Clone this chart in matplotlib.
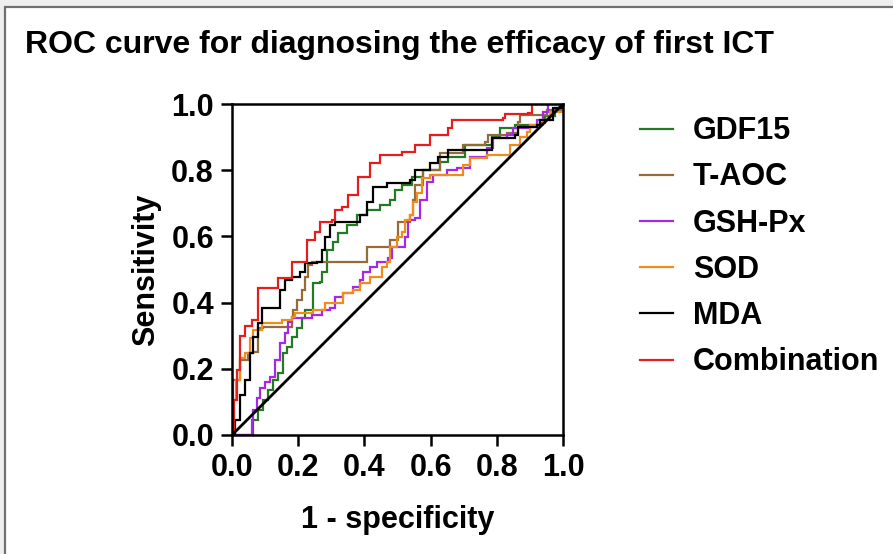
import matplotlib
matplotlib.use("Agg")
import matplotlib.pyplot as plt
from matplotlib.patches import Rectangle

# ROC points (1 - specificity, sensitivity)
gdf15_fpr = [0, 0.039, 0.063, 0.079, 0.094, 0.109, 0.124, 0.139, 0.154, 0.166, 0.181, 0.196, 0.211,
             0.221, 0.245, 0.266, 0.272, 0.287, 0.287, 0.305, 0.32, 0.347, 0.378, 0.408, 0.447,
             0.477, 0.492, 0.514, 0.544, 0.577, 0.628, 0.653, 0.704, 0.785, 0.81, 0.855, 0.93,
             0.946, 0.976, 1.0]
gdf15_tpr = [0, 0, 0.045, 0.076, 0.106, 0.136, 0.166, 0.187, 0.248, 0.266, 0.296, 0.323, 0.353,
             0.378, 0.459, 0.462, 0.492, 0.498, 0.559, 0.583, 0.61, 0.634, 0.665, 0.68, 0.695,
             0.71, 0.74, 0.755, 0.779, 0.80, 0.825, 0.84, 0.876, 0.90, 0.927, 0.937, 0.943,
             0.964, 0.988, 1.0]

taoc_fpr = [0, 0.003, 0.024, 0.048, 0.063, 0.079, 0.094, 0.166, 0.181, 0.184, 0.196, 0.211, 0.221,
            0.23, 0.242, 0.387, 0.408, 0.408, 0.456, 0.477, 0.502, 0.502, 0.538, 0.547, 0.553,
            0.577, 0.628, 0.698, 0.764, 0.773, 0.831, 0.864, 0.87, 0.909, 0.952, 1.0]
taoc_tpr = [0, 0.166, 0.227, 0.248, 0.251, 0.323, 0.326, 0.326, 0.356, 0.378, 0.408, 0.438, 0.477,
            0.514, 0.523, 0.523, 0.544, 0.568, 0.568, 0.589, 0.61, 0.644, 0.665, 0.71, 0.755,
            0.80, 0.852, 0.876, 0.885, 0.906, 0.912, 0.946, 0.967, 0.967, 0.982, 1.0]

gshpx_fpr = [0, 0.06, 0.06, 0.063, 0.076, 0.085, 0.1, 0.115, 0.13, 0.145, 0.16, 0.169, 0.181,
             0.242, 0.272, 0.296, 0.311, 0.335, 0.366, 0.387, 0.396, 0.417, 0.438, 0.471, 0.483,
             0.514, 0.523, 0.532, 0.553, 0.568, 0.589, 0.607, 0.65, 0.68, 0.719, 0.770, 0.789,
             0.831, 0.849, 0.9, 0.921, 0.94, 0.955, 1.0]
gshpx_tpr = [0, 0, 0.045, 0.076, 0.112, 0.142, 0.16, 0.175, 0.227, 0.278, 0.308, 0.341, 0.353,
             0.363, 0.378, 0.384, 0.417, 0.429, 0.447, 0.468, 0.492, 0.508, 0.523, 0.535, 0.568,
             0.568, 0.598, 0.65, 0.656, 0.71, 0.764, 0.785, 0.80, 0.807, 0.84, 0.867, 0.897,
             0.906, 0.927, 0.93, 0.952, 0.976, 1.0, 1.0]

sod_fpr = [0, 0.003, 0.012, 0.024, 0.039, 0.054, 0.063, 0.091, 0.151, 0.181, 0.19, 0.221, 0.245,
           0.281, 0.335, 0.366, 0.387, 0.417, 0.453, 0.468, 0.477, 0.498, 0.514, 0.523, 0.538,
           0.547, 0.559, 0.574, 0.598, 0.683, 0.698, 0.719, 0.770, 0.819, 0.84, 0.87, 0.891,
           0.9, 0.94, 0.961, 1.0]
sod_tpr = [0, 0.106, 0.166, 0.233, 0.248, 0.293, 0.317, 0.338, 0.347, 0.356, 0.369, 0.369, 0.378,
           0.399, 0.429, 0.438, 0.459, 0.477, 0.508, 0.523, 0.568, 0.598, 0.613, 0.65, 0.665,
           0.704, 0.731, 0.776, 0.785, 0.785, 0.816, 0.837, 0.846, 0.846, 0.876, 0.90, 0.915,
           0.937, 0.952, 0.976, 1.0]

mda_fpr = [0, 0.009, 0.024, 0.039, 0.054, 0.063, 0.079, 0.091, 0.13, 0.145, 0.16, 0.181, 0.205,
           0.221, 0.257, 0.272, 0.281, 0.296, 0.311, 0.341, 0.387, 0.408, 0.426, 0.468, 0.538,
           0.553, 0.568, 0.598, 0.622, 0.653, 0.773, 0.785, 0.855, 0.864, 0.921, 0.93, 0.97, 1.0]
mda_tpr = [0, 0.045, 0.12, 0.166, 0.248, 0.296, 0.338, 0.384, 0.384, 0.438, 0.468, 0.477, 0.492,
           0.52, 0.523, 0.559, 0.598, 0.634, 0.644, 0.644, 0.665, 0.704, 0.749, 0.761, 0.770,
           0.80, 0.80, 0.822, 0.84, 0.861, 0.861, 0.897, 0.906, 0.93, 0.937, 0.952, 0.988, 1.0]

comb_fpr = [0, 0.006, 0.015, 0.024, 0.039, 0.06, 0.079, 0.139, 0.139, 0.169, 0.181, 0.221, 0.227,
            0.251, 0.266, 0.302, 0.311, 0.332, 0.35, 0.381, 0.417, 0.447, 0.514, 0.553, 0.598,
            0.653, 0.665, 0.819, 0.825, 0.894, 0.906, 1.0]
comb_tpr = [0, 0.106, 0.196, 0.30, 0.33, 0.347, 0.444, 0.444, 0.474, 0.474, 0.523, 0.523, 0.589,
            0.613, 0.644, 0.65, 0.68, 0.689, 0.725, 0.779, 0.822, 0.846, 0.855, 0.876, 0.906,
            0.927, 0.952, 0.958, 0.97, 0.973, 1.0, 1.0]

series = [
    ("GDF15", gdf15_fpr, gdf15_tpr, "#237a23"),
    ("T-AOC", taoc_fpr, taoc_tpr, "#946c3c"),
    ("GSH-Px", gshpx_fpr, gshpx_tpr, "#a628e6"),
    ("SOD", sod_fpr, sod_tpr, "#f08c1c"),
    ("MDA", mda_fpr, mda_tpr, "#000000"),
    ("Combination", comb_fpr, comb_tpr, "#e41e1e"),
]
ticks = [0.0, 0.2, 0.4, 0.6, 0.8, 1.0]

plt.rcParams["font.family"] = ["Liberation Sans", "DejaVu Sans"]
plt.rcParams["font.weight"] = "bold"

W, H = 893, 554
fig = plt.figure(figsize=(W / 100, H / 100), dpi=100)
fig.patch.set_facecolor("#efefef")

# white panel with the grey frame at top/left
fig.patches.append(Rectangle((5 / W, -0.05), 1.1, 1 - 7 / H + 0.05, transform=fig.transFigure,
                             facecolor="white", edgecolor="#707070", linewidth=1.6, zorder=-10))

fig.text(25 / W, 1 - 45 / H, "ROC curve for diagnosing the efficacy of first ICT",
         fontsize=23, fontweight="bold", va="center", ha="left")

ax = fig.add_axes([232 / W, 1 - 435 / H, 331 / W, 331 / H])
ax.set_facecolor("none")

for name, fpr, tpr, col in series:
    ax.plot(fpr, tpr, drawstyle="steps-post", color=col, linewidth=1.6, label=name,
            solid_joinstyle="miter")

# reference line
ax.plot([0, 1], [0, 1], color="black", linewidth=2.0)

ax.set_xlim(0, 1)
ax.set_ylim(0, 1)
ax.set_xticks(ticks)
ax.set_yticks(ticks)
ax.set_xticklabels([f"{t:.1f}" for t in ticks])
ax.set_yticklabels([f"{t:.1f}" for t in ticks])
ax.tick_params(direction="out", length=8, width=1.8, labelsize=22, pad=5)
for s in ax.spines.values():
    s.set_linewidth(1.8)

ax.set_xlabel("1 - specificity", fontsize=22, fontweight="bold", labelpad=16)
ax.set_ylabel("Sensitivity", fontsize=22, fontweight="bold", labelpad=7)

leg = ax.legend(loc="upper left", bbox_to_anchor=(1.196, 1.0), frameon=False,
                fontsize=22, handlelength=1.08, handletextpad=0.65, labelspacing=0.53,
                borderaxespad=0)
for t in leg.get_texts():
    t.set_fontweight("bold")

fig.savefig("out.png", dpi=100, facecolor=fig.get_facecolor())
